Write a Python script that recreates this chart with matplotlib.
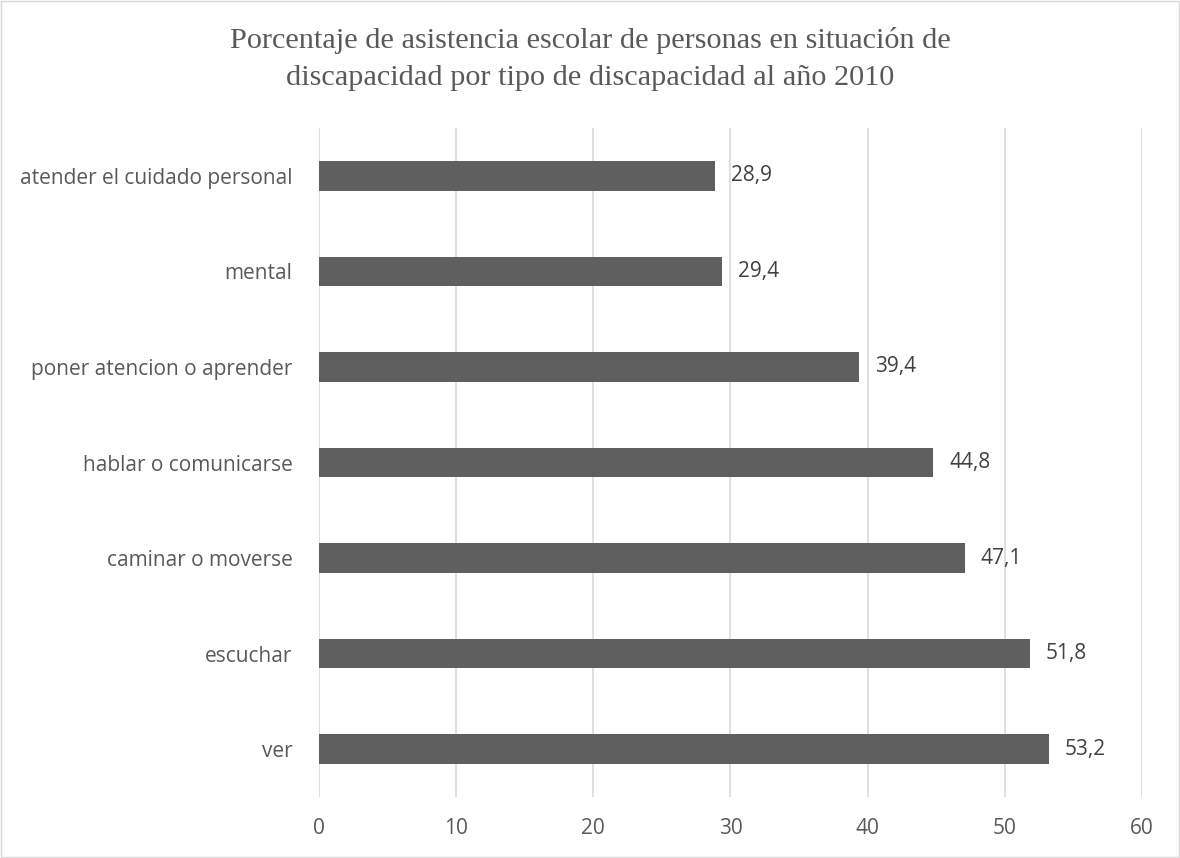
import matplotlib.pyplot as plt
from matplotlib.patches import Rectangle

categories = ['ver', 'escuchar', 'caminar o moverse', 'hablar o comunicarse',
              'poner atencion o aprender', 'mental', 'atender el cuidado personal']
values = [53.2, 51.8, 47.1, 44.8, 39.4, 29.4, 28.9]
xticks = [0, 10, 20, 30, 40, 50, 60]

fig = plt.figure(figsize=(11.8, 8.58), dpi=100)
ax = fig.add_axes([0.2703, 0.0711, 0.6975, 0.7797])

pos = range(len(categories))
ax.barh(pos, values, height=0.31, color='#5f5f5f', zorder=3)
for p, v in zip(pos, values):
    ax.text(v + 1.15, p, str(v).replace('.', ','), va='center', ha='left',
            fontsize=15, color='#404040', family='Open Sans')

ax.set_xlim(0, 60)
ax.set_ylim(-0.5, len(categories) - 0.5)
ax.set_xticks(xticks)
ax.set_xticklabels([str(t) for t in xticks], fontsize=15, color='#595959', family='Open Sans')
ax.set_yticks(list(pos))
ax.set_yticklabels(categories, fontsize=15, color='#595959', family='Open Sans')
ax.tick_params(length=0)
ax.tick_params(axis='x', pad=15)
ax.tick_params(axis='y', pad=19)
ax.grid(axis='x', color='#d9d9d9', linewidth=1.2, zorder=0)
for s in ax.spines.values():
    s.set_visible(False)

fig.text(0.5, 0.931, 'Porcentaje de asistencia escolar de personas en situación de\n'
         'discapacidad por tipo de discapacidad al año 2010',
         ha='center', va='center', fontsize=21.75, color='#595959',
         family='Liberation Serif', linespacing=1.55)

fig.patches.append(Rectangle((0.001, 0.001), 0.998, 0.998, transform=fig.transFigure,
                             fill=False, edgecolor='#d9d9d9', linewidth=1))

fig.savefig('out.png', dpi=100)
